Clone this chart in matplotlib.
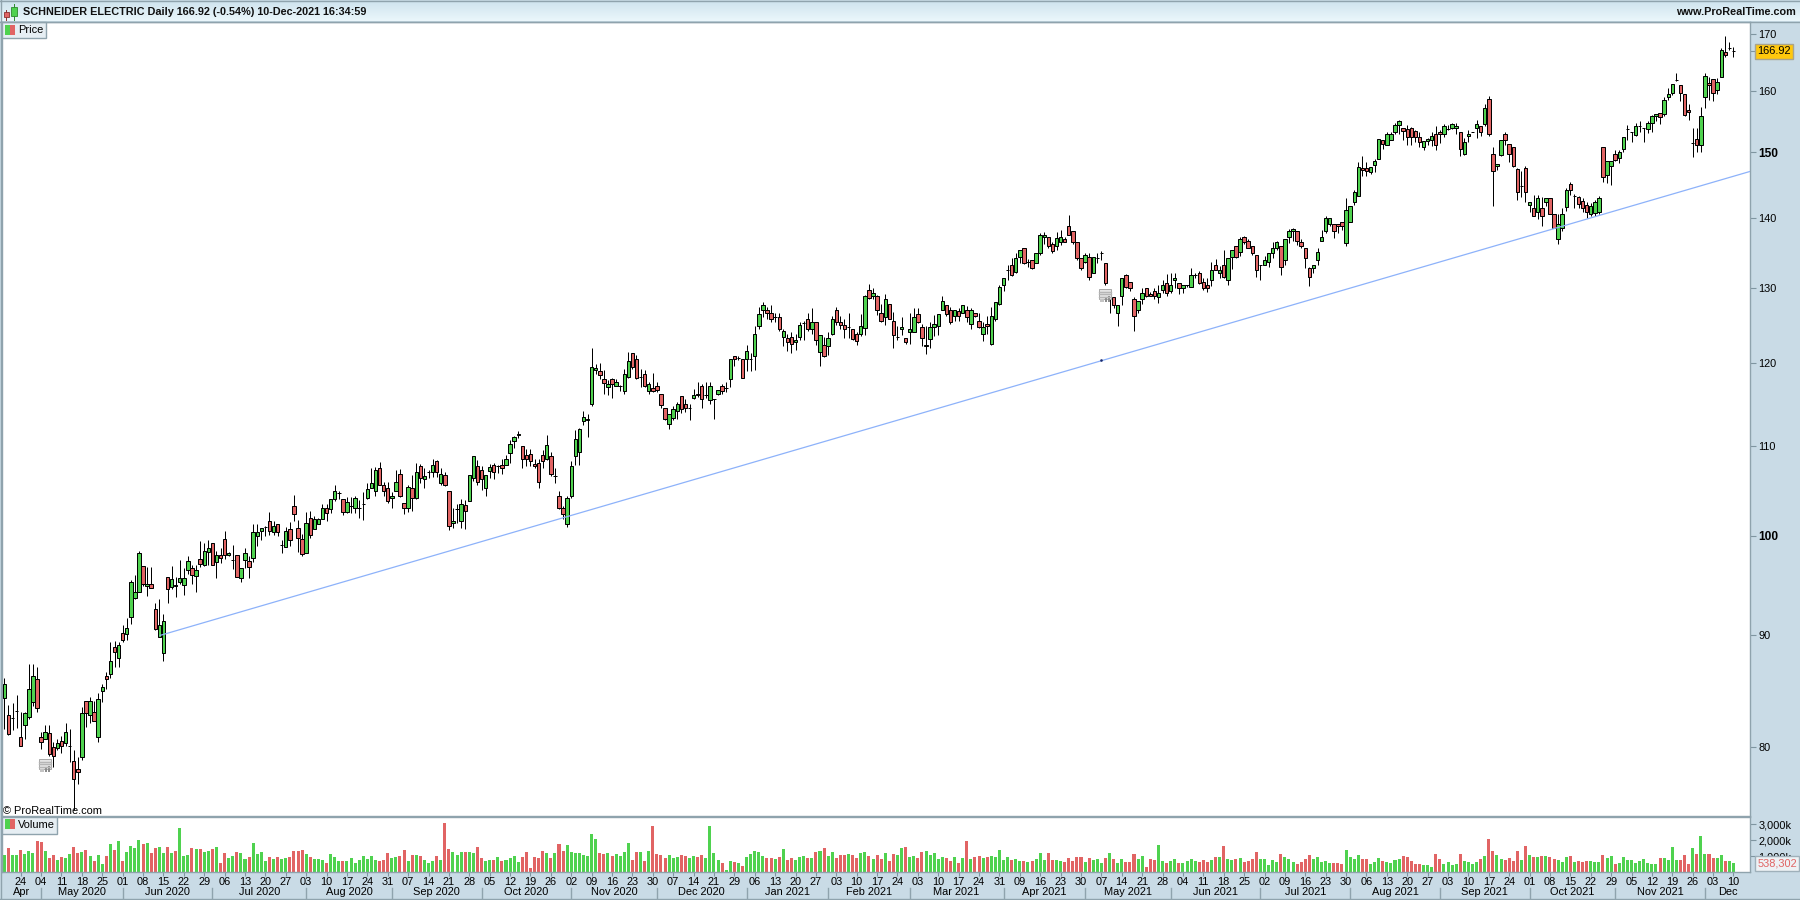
import matplotlib
matplotlib.use('Agg')
import matplotlib.pyplot as plt
from matplotlib.patches import Rectangle
from matplotlib.lines import Line2D
from matplotlib.ticker import NullLocator
import numpy as np

plt.rcParams['font.family'] = ['Liberation Sans', 'DejaVu Sans']

W, H = 1800, 900

opens = [
    84.2,82.7,82.5,83.1,80.8,81.9,82.6,83.9,85.9,80.8, 80.7,81.2,80,79.9,80.5,80.3,80.1,78.8,78.1,79.1,
    84,82.7,83,80.8,84.85,86.2,86.4,88.9,87.9,90.2, 90.1,91.8,93.6,94.2,96.9,94.8,95,92.5,89.8,88.3,
    95.7,94.7,94.9,95.2,94.9,96.4,96.6,95.8,97.6,97, 98.3,99.2,97.3,98,99.7,98,97.5,98,95.6,97.5,
    97.4,97.7,100,100.5,100.9,101.6,100.4,101.3,99,98.8, 100.7,103.2,100.8,99.7,98.2,101.9,100.7,101.2,101.8,103,
    102.9,104,104.6,104,102.5,103.2,103,103,103.4,104.1, 105.2,104.9,107.4,105.5,105.2,104.1,104.9,106.8,103.5,103,
    105.2,104.1,107.6,106.2,107,107,108.2,105.7,106.6,104.8, 101.4,102.9,101.6,103.3,103.7,106.3,107.7,107.2,105.2,107.1,
    107.8,107.7,107.8,107.8,109.1,110.5,111.2,109.9,108.9,109, 107.9,108,108.9,108.5,108.75,106.5,104.3,103,101.2,104.3,
    108.75,109.3,112.9,113,115,119.1,119,118,117,118, 117.2,117.2,116.5,118.3,121.3,120.6,118.3,118.6,116.5,116.9,
    117.2,116.2,114.5,112.6,113.3,114.1,115.9,115,114.5,115.7, 116.2,117.2,116.1,115.4,115.6,116.2,117.2,116.9,118,120.9,
    120.7,120.5,120.5,120.5,120.9,124.9,127,126.9,126.6,126, 126,123.4,123.2,123.4,122.7,123.4,125.2,125.8,124.4,125.3,
    121.4,122.3,122.2,123.8,126.9,125.4,125,124.7,124.5,123.8, 123.8,124.6,129.7,128.8,128.9,126.6,126,127.8,125.5,123.4,
    124.4,123.2,124.1,124,126.4,124.7,122.2,123.1,124.7,124.9, 126.9,127.7,126.9,126.1,126.8,126.6,126.9,125.1,126.5,125.5,
    123.8,125.1,122.5,125.8,127.8,130.4,132.4,133.2,132.2,134.3, 135.5,133.6,133.9,133.5,134.8,137.1,137.1,136.2,135.8,136.5,
    136.8,138.8,138,136.4,134.2,133.6,134.3,132,134.1,134.8, 133.5,128.9,128.7,126.5,128.8,131.7,130.8,128.5,126.9,128.4,
    130,129.1,129.6,128.7,129.7,130.7,129.6,131,130.6,129.9, 130.3,130.1,131.7,132.1,130.8,130.4,131,133.1,132.1,133.1,
    131,134.3,135.8,135,137.1,136.6,135.8,134.5,133.1,133.1, 133.6,134.9,135.6,135.9,133.8,137.2,138,138,136.5,135.6,
    132.7,132.7,133.8,136.6,138,139.1,139.1,139.1,139.3,136.3, 139.4,142.4,143.3,147.5,147.5,146.9,148,148.9,151.9,151.2,
    151.9,153.2,154.4,153.9,153.7,153.9,153.4,152.4,150.8,151.8, 151.9,153,153.2,152.9,153.7,153.9,153.9,153.2,149.8,152.6,
    153.3,153.9,154.2,154.6,158.7,149.7,147.8,149.6,152.9,151.3, 150.8,147.4,144.7,147.5,141.9,141.5,140.9,141.5,142.4,142.9,
    140.5,136.8,138.5,141.6,145,143.2,143.1,142.5,141.9,140.5, 140.7,140.8,150.8,146.4,147.8,149.8,149.1,150.5,153.7,153.2,
    152.8,154.2,153.9,153.7,154.7,155.8,156.3,156.2,159,159.7, 161.9,161,159.5,156.9,151.5,152.2,151.2,159,161.4,162.1,
    160.3,162.4,166.8,167.5,166.92,
]
highs = [
    86,83.6,83.8,84.5,83,83,87.3,87.3,87,81.3, 81.9,81.9,80.4,80.7,80.9,82,81.5,79.7,79.1,83.4,
    84,84.3,84,84.7,85.5,86.6,89.4,89.5,89.4,91, 91.7,95.4,95.9,98.4,96.9,96.7,96.7,93.1,93.5,92.1,
    95.7,96.9,95.7,97.5,96.6,97.9,97,97,99.4,99.2, 99.5,99.2,98.4,98.7,100.5,98.3,99,98,96.6,98.7,
    97.9,101.3,101.3,100.8,101,102.5,101.6,101.3,99.6,100.9, 101.5,104.4,101.7,100.2,102.5,102.6,102.1,101.9,103.4,103.4,
    104,105.5,104.9,104,104.2,104.2,104.3,103.8,104.7,105.7, 107.4,107.5,108.1,105.8,105.8,104.7,107.2,107.3,103.5,105.5,
    106.6,108,107.9,107.4,107.2,108.5,108.3,107.4,107,104.8, 103,103.4,104,103.9,106.6,108.75,108.3,107.7,106.6,107.9,
    108,107.8,108.5,108.9,110.6,111.1,111.7,109.9,109.6,109.6, 108.5,108.5,109.5,111.2,109.3,107.4,104.8,103.2,104.3,108.2,
    111.8,112.1,114.1,113.7,122,119.9,120,119.1,117.9,118.1, 118,117.3,119.3,121.4,121.3,121,119.3,119.1,117.7,118.8,
    117.6,116.2,114.5,113.8,114.7,115.2,115.9,115.6,115,116.8, 117.7,117.4,117.6,117.7,115.6,116.7,117.4,117.6,120.5,120.9,
    120.9,120.5,122.3,121.3,124.8,127.4,128,127.4,127.6,126.6, 126.5,124.4,123.8,124,123.8,125.3,125.5,126.6,127.2,125.3,
    123.7,123.4,124,126.2,127.4,126.1,125.8,126.6,124.5,124.1, 126.4,129,130.5,129.9,129,127.8,129.1,127.8,126.7,124.8,
    126,123.2,126.5,127.2,127.3,125.1,124.8,125.4,126.3,126.4, 128.9,127.7,127.4,126.9,127.2,127.7,127.5,127.3,126.5,126.5,
    125.3,126.2,127.4,128.1,130.3,131.3,133.1,134.1,134.9,135.3, 135.5,134,133.9,134.9,137.8,137.9,137.2,136.5,137.9,138.2,
    137.1,140.4,138,136.4,134.2,134.9,134.8,134.3,134.9,135.1, 133.5,128.9,128.7,127.7,131.3,131.9,130.8,128.7,128.2,130,
    130,129.4,130,130.3,131,131.9,132,132,130.7,130.4, 130.4,132.7,132,132.3,131.4,131.3,133.6,134,133,135.3,
    134.2,135.3,135.8,137.1,137.3,136.8,135.8,134.5,133.1,134.4, 134.9,136.5,136.6,135.9,136.8,138.3,138.5,138,136.9,135.6,
    132.9,133.2,135.5,138.2,140.2,140,139.1,139.1,139.3,143, 141.8,144.1,148.4,149.4,148.4,147.7,148.9,152.1,151.9,153.3,
    153.3,154.7,155.2,153.9,154.4,154,153.6,153.3,151.8,152.3, 153.2,154.2,153.6,154.6,154.4,154.7,154.7,153.2,152.3,153.6,
    153.3,155.2,154.2,157.9,159.2,150.8,148.1,151.9,153.3,151.3, 150.8,147.5,147,147.9,142.4,143.4,143.4,143.1,143,142.9,
    140.5,140.5,141.5,144.5,145.3,143.6,143.2,143,142.3,142.2, 142.7,143.2,150.8,148.7,148.7,150.4,150.4,152.4,154.4,153.3,
    154.7,155,153.9,155,156,156.2,156.3,159.1,160.5,161.2, 163.2,161,159.5,157.8,153.9,153.9,157.4,163.1,162.5,162.1,
    162.2,167.5,169.6,168.5,167.6,
]
lows = [
    81.5,81,81.4,81.6,80.1,80.7,82.4,83.5,83,79.8, 80.7,79.2,78.3,79.7,79.5,80.1,78.7,74.8,76.9,78.9,
    81.7,82,82.2,80.4,83.9,85,86,87,87,89.4, 89.6,91.1,93.5,94.2,94.8,93.8,94.6,90.5,89.8,87.6,
    93.1,94.5,93.7,95,93.9,96,95,94.2,96.7,96.8, 97,97,95.6,97.2,97.6,97.9,96.5,95.7,95.2,96.6,
    95.6,97.3,98.9,99.6,100,100.1,100.1,100,98.2,98.8, 98.9,101.6,98.3,97.9,98.2,99.8,100.7,101.2,101.8,101.6,
    102.4,103.7,104,102.2,102.4,102.4,102.4,101.9,101.7,104, 105.2,104.3,105.5,104.3,103.5,103,104.9,104.2,102.3,102.5,
    102.7,104,105.7,105.2,106.3,106.4,106.4,105.5,105.4,100.6, 100.8,101.4,100.8,100.7,103.7,106,105.5,105,104.3,106.3,
    106.2,106.9,106.8,107.8,108,109.7,110.9,107.4,107.7,107.7, 107.4,105.2,107.4,108.3,106.5,105.7,102.9,101.8,100.9,104.1,
    107.8,107.8,112.4,111,114.7,118.6,118,116.2,116,115.7, 117.1,116.5,116.2,118.2,119.3,118,117,117,116.2,116.4,
    116.4,114.5,113,112,113,113.1,113.9,114,113,115.6, 115.8,114.5,115.7,115,113.2,116,116.2,116.4,117,119.7,
    120.4,118.2,119,119,119.2,124.4,126,125.7,125.3,125.4, 124.2,122.2,121.6,121.3,121.7,123,123,124.2,123.8,122.3,
    119.7,120.8,121,123.7,125,124.5,123.3,123.3,123,122.3, 123.5,123.6,128.5,128.5,126.3,125.4,125,125.7,122,123,
    123.7,122.5,122.5,124,125.2,122.2,121.2,122,123.5,123.6, 126.9,126.1,125.1,125.5,125.5,126.6,125.3,124.5,126,124.6,
    122.9,123.8,122.4,125.5,127.6,129.6,131,131.6,132,133.4, 133.3,132.9,132.6,133.4,134.5,136.2,135.6,134.9,135.3,136,
    136.4,137.4,136.2,133.9,132.5,133.4,131,132,133.4,133.8, 130.4,126.6,127.2,124.8,127.6,130,129.6,124.2,126.5,127.8,
    128.7,128.8,128.5,127.9,129.2,128.9,129.2,129.9,129.1,129.2, 130.1,130.1,131.4,130.5,129.7,129.4,130.2,132.4,131.3,131.4,
    130.3,132.6,134.2,134.4,136.2,135.5,134.5,131.5,131,133.1, 132.9,134.1,135.3,131.8,133.1,136.3,136.6,136,135.5,132.7,
    130.2,132,133.1,136.6,137.7,138.8,137,137.7,138.2,135.9, 139.4,141.9,143.3,146.3,146.3,146.6,146.9,148.9,150.6,151.2,
    151.9,153,153,151.9,151.1,151.2,151.6,150.8,150.3,151.1, 151,150.4,151.5,152.4,153.6,153.7,153,149.5,149.6,151.6,
    153.2,152.3,152.6,154.2,152.6,141.8,147.2,149.5,151.2,148.5, 147.7,142.6,143.1,142.3,140.9,140.3,139.8,138.8,141.7,140.5,
    138.4,136.1,138,141,143.4,141.5,141.5,140.8,140,140.2, 140.3,140.5,145.3,145.2,144.9,148.7,148.3,150.1,151.9,151.7,
    152.6,153.2,151.7,153.1,153.3,155,154.6,155.8,158.6,159.4, 161.7,158.4,155.8,155.2,149.2,150,150,157.2,158.5,158.3,
    159.6,162.4,166,167.1,166,
]
closes = [
    85.5,81.1,82.5,83.1,80.1,82.9,85,86.2,83.35,80.4, 81.3,79.4,79.2,80.3,80.1,81.3,80.1,77.3,77.9,82.9,
    82.9,84,82.2,84.1,85.2,85.9,87.6,88.4,89.1,89.6, 90.7,95.2,94.2,98.2,95,95,94.6,90.6,91,91.4,
    94.5,95.5,94.8,95.6,95.6,97.4,95.9,96.4,97.1,98.4, 98.7,97,98,97.7,98,98.2,97.5,95.7,96.6,98.2,
    96.7,100.4,100.4,100.8,100.9,100.5,101,100.4,99,100.5, 99.5,102.3,99.8,98.1,101.4,100.1,101.8,101.8,103,102.4,
    104,104.8,104.6,102.5,103.6,103.2,104.1,103,103.4,105.1, 105.7,107.2,105.5,104.9,103.7,104.3,105.9,104.3,103,105.3,
    104.1,107,106.3,106.5,107,107.8,107,106.8,105.5,101, 101.6,102.9,103.4,102.7,106.6,108.75,105.9,106.2,106.6,107.5,
    107,107.7,107.4,108.5,110.2,111,111.4,108.4,108.5,108.2, 107.6,105.9,108.2,110.1,106.8,106.5,103,102.3,104.1,107.7,
    110.8,111.9,113.4,113.1,119.5,119.4,118.5,117.5,117.4,117.4, 117.7,117.2,118.6,120.3,119.5,118.1,118.3,117.2,117.4,116.5,
    116.7,114.8,113.1,113.8,114.3,115,114.4,114.5,114.5,116, 116,115.6,116.1,117.2,115.6,116.7,116.5,116.9,120.5,120.5,
    120.7,118.2,121.6,120.5,123.8,126.4,127.7,126.6,125.7,126, 124.4,124.2,122.7,122.5,123,125,125.2,124.5,125.4,123,
    123.7,120.9,123.2,125.7,125.4,125,124.5,124.7,123.1,122.9, 124.9,128.8,128.6,129.3,126.9,125.5,128.5,125.7,123.6,123.4,
    124.7,122.7,124.4,126,125.3,123.3,122.4,124.7,125.1,126.4, 128.2,126.4,125.4,126.9,126.2,127.6,126,127,126.1,124.7,
    124.7,124.9,126.1,128.1,130.1,131.3,132.4,131.8,134.1,135.3, 133.4,133.6,132.7,134.9,137.4,137.4,135.9,135.2,137,137.1,
    136.4,137.4,136.4,134.2,132.8,134.5,131.5,134.3,134.1,134.8, 130.7,128.9,127.7,127.7,131.3,130.1,129.9,126.1,128.2,129.3,
    128.9,128.8,128.9,129.2,130.4,129.2,130.3,131.4,129.9,130.4, 130.3,131.8,131.7,130.6,130,129.9,132.5,132.5,132.5,131.5,
    134.2,135.3,134.3,136.9,136.5,135.6,134.9,132.5,133.1,133.8, 134.9,135.5,136.5,132.9,136.8,138.1,138.3,136.6,135.9,134.1,
    131.5,133.2,135,137.2,139.9,139.9,138.1,138.8,138.7,141.2, 141.8,143.8,147.7,147.2,147,147.7,148.6,152.1,151.3,152.9,
    153,154.4,155,153.5,152.4,152.4,152.4,151.6,151.8,152.1, 152.6,151.2,152.9,154.2,153.7,154.5,154.2,150.5,151.6,152.9,
    153.3,154.5,153.2,157.2,152.9,147,148.1,151.9,151.9,149.7, 147.8,143.8,144.7,143.8,142.4,140.3,143,140.3,143,140.6,
    138.5,139.1,140.6,144.1,144.1,143.2,142.1,141.5,140.9,141.8, 142.4,143,146.1,148.7,148.7,148.8,150,152.4,153.7,153.2,
    154.3,154.2,153.9,154.7,155.8,156.2,155.7,158.5,159.5,161.2, 161.9,159.7,156.1,156.6,151.5,151.2,155.9,162.6,161,159.7,
    161.6,167.1,166.2,167.5,166.92,
]
# volume in thousands
volumes = [
    1060,1500,1060,1060,1370,1120,1310,1190,1940,1870, 1310,870,1060,750,940,870,1120,1560,1190,1250,
    1370,1000,690,1060,500,1000,1750,1370,1940,690, 1250,1620,1500,2000,1750,1810,1190,1500,1560,1190,
    1560,1190,1310,2750,1000,1060,1500,1440,1440,1250, 1310,1440,1560,560,1190,870,1000,1250,1190,810,
    940,1810,1120,1250,690,940,810,940,810,870, 940,1310,1310,1370,1120,940,810,810,750,560,
    1120,940,690,690,690,870,560,750,1000,810, 1000,750,690,750,1190,870,940,1020,1400,710,
    1080,1080,1020,770,580,710,1020,770,3080,1460, 1270,1080,1270,1270,1270,1210,1580,900,710,770,
    770,960,710,770,900,1020,650,960,1270,270, 960,900,1330,1210,900,1210,1770,1330,1710,1270,
    1210,1210,1080,1020,2400,2080,1210,1120,1190,1020, 1150,1020,1270,1830,770,1270,1270,710,1330,2900,
    1150,1080,900,1080,900,960,1080,1020,900,1020, 960,1080,900,2900,1210,770,580,150,710,650,
    580,400,960,1150,1330,1270,1020,900,900,830, 960,1460,770,900,770,960,1020,900,900,1270,
    1330,1520,1020,1270,900,1080,1080,1150,1080,900, 1210,1270,1020,830,1080,830,1210,710,1150,1080,
    1520,1580,960,1020,900,1270,1330,1080,1210,830, 960,900,710,960,580,900,1960,830,960,1020,
    900,960,1020,960,1400,770,960,770,830,710, 710,650,710,830,1210,770,1210,770,770,710,
    650,900,710,960,960,650,900,770,830,580, 900,1210,830,580,830,650,650,1150,830,1020,
    330,830,770,1710,710,580,710,830,580,580, 710,830,710,650,770,650,770,960,960,1650,
    830,770,830,900,650,710,830,1270,830,830, 460,770,650,1150,960,830,650,520,650,830,
    1080,830,960,650,710,580,580,580,520,1400, 960,830,1080,830,830,520,650,900,710,650,
    580,770,830,1020,960,710,520,520,460,460, 330,1150,830,520,650,460,520,1150,710,650,
    520,650,830,1020,2060,1330,1080,810,750,870, 690,1310,750,1620,1060,940,940,1000,1000,940,
    810,750,620,940,1000,620,690,620,690,690, 620,620,1060,870,1000,500,560,940,750,750,
    560,690,810,560,500,500,870,870,750,1560, 750,750,1060,500,1500,1120,2250,1120,1120,870,
    870,1060,690,690,538,
]
assert len(opens) == len(highs) == len(lows) == len(closes) == len(volumes), (len(opens), len(highs), len(lows), len(closes), len(volumes))

week_labels = ['24','04','11','18','25','01','08','15','22','29','06','13','20','27','03','10','17','24','31',
               '07','14','21','28','05','12','19','26','02','09','16','23','30','07','14','21','29',
               '06','13','20','27','03','10','17','24','03','10','17','24','31','09','16','23','30',
               '07','14','21','28','04','11','18','25','02','09','16','23','30','06','13','20','27',
               '03','10','17','24','01','08','15','22','29','05','12','19','26','03','10']
month_labels = ['Apr','May 2020','Jun 2020','Jul 2020','Aug 2020','Sep 2020','Oct 2020','Nov 2020','Dec 2020',
                'Jan 2021','Feb 2021','Mar 2021','Apr 2021','May 2021','Jun 2021','Jul 2021','Aug 2021',
                'Sep 2021','Oct 2021','Nov 2021','Dec']
month_starts = [9,29,51,74,95,117,139,160,182,202,222,245,265,286,308,330,352,374,395,417]

price_ticks = [170,160,150,140,130,120,110,100,90,80]
volume_ticks = [1000,2000,3000]
trend_x = [38.2, 428.05]
trend_y = [90, 147]
last_price = 166.92

GREEN = '#4fd24f'
RED = '#e16464'
STRIP = '#c9dbe6'
BORDER = '#8fa3ad'
TICK = '#7f95a0'
FS = 7.9

PITCH = 4.078
X0 = 4.4
xlim = ((2 - X0) / PITCH, (1750 - X0) / PITCH)


def box(l, t, r, b):
    return [l / W, 1 - b / H, (r - l) / W, (b - t) / H]


def rect(l, t, r, b, **kw):
    fig.add_artist(Rectangle((l / W, 1 - b / H), (r - l) / W, (b - t) / H,
                             transform=fig.transFigure, **kw))


def hline(y, l, r, color=BORDER):
    fig.add_artist(Line2D([l / W, r / W], [1 - y / H, 1 - y / H], color=color, lw=1))


def calendar(l, t):
    rect(l, t, l + 12, t + 10, fc='#e4e4e4', ec='#a8a8a8', lw=0.7)
    for k in range(1, 4):
        hline(t + k * 2.5, l, l + 12, color='#b5b5b5')
    rect(l + 6, t + 9, l + 8, t + 13, fc='#8c8c8c', ec='none')
    rect(l + 9, t + 7, l + 11, t + 13, fc='#8c8c8c', ec='none')
    rect(l + 1, t + 10, l + 5, t + 13, fc='#c4c4c4', ec='none')


fig = plt.figure(figsize=(W / 100, H / 100), dpi=100, facecolor=STRIP)

# title bar
ax_top = fig.add_axes(box(0, 1, 1800, 21))
ax_top.imshow(np.linspace(0, 1, 20).reshape(-1, 1), aspect='auto', cmap=matplotlib.colors.LinearSegmentedColormap.from_list('t', ['#cfe4ee', '#eaf6fb']))
ax_top.axis('off')

x = np.arange(len(opens))
o, h, l, c = map(np.array, (opens, highs, lows, closes))
up = c >= o
colors = np.where(up, GREEN, RED)

# price pane
ax = fig.add_axes(box(2, 22, 1750, 816))
ax.set_yscale('log')
ax.vlines(x, l, h, color='black', lw=0.72, zorder=2)
ax.bar(x, np.abs(c - o), bottom=np.minimum(o, c), width=0.84, color=colors, edgecolor='black', linewidth=0.72, zorder=3)
ax.plot(trend_x, trend_y, color='#8db2fa', lw=0.9, zorder=4)
ax.plot([268.9], [120.4], marker='s', ms=0.8, color='#1a2a6c', zorder=5)
ax.set_xlim(*xlim)
ax.set_ylim(74.35, 172.17)
ax.yaxis.tick_right()
ax.yaxis.set_minor_locator(NullLocator())
ax.set_yticks(price_ticks + [last_price], [str(t) for t in price_ticks] + [''])
ax.set_xticks([])
ax.tick_params(axis='y', which='major', length=4, width=0.8, color=TICK, pad=2, labelsize=FS)
for t, lab in zip(ax.yaxis.get_major_ticks(), price_ticks + [last_price]):
    if lab in (100, 150):
        t.label2.set_fontweight('bold')
        t.label2.set_fontsize(8.6)
    if lab == last_price:
        t.tick2line.set_color('black')
for s in ax.spines.values():
    s.set_color(BORDER)
    s.set_linewidth(1)
ax.annotate('166.92', xy=(1, last_price), xycoords=('axes fraction', 'data'), xytext=(24, 0),
            textcoords='offset pixels', ha='center', va='center', fontsize=FS,
            bbox=dict(boxstyle='square,pad=0.25', fc='#ffc80d', ec='#a9a48c', lw=1), annotation_clip=False)

# volume pane
ax_v = fig.add_axes(box(2, 817, 1750, 872))
ax_v.bar(x, volumes, width=0.74, color=colors, linewidth=0)
ax_v.set_xlim(*xlim)
ax_v.set_ylim(0, 3440)
ax_v.yaxis.tick_right()
ax_v.set_yticks(volume_ticks, ['1,000k', '2,000k', '3,000k'])
ax_v.tick_params(axis='y', length=4, width=0.8, color=TICK, pad=2, labelsize=FS)
week_idx = 4 + 5 * np.arange(len(week_labels))
ax_v.set_xticks(week_idx, week_labels)
ax_v.tick_params(axis='x', length=3, width=0.8, color=TICK, pad=0.3, labelsize=FS)
for s in ax_v.spines.values():
    s.set_color(BORDER)
    s.set_linewidth(1)
ax_v.annotate('538,302', xy=(1, 538), xycoords=('axes fraction', 'data'), xytext=(27, 0),
              textcoords='offset pixels', ha='center', va='center', fontsize=FS, color='#e16464',
              bbox=dict(boxstyle='square,pad=0.22', fc='#eef2f5', ec='#9fb0ba', lw=1), annotation_clip=False)

edges = [xlim[0]] + month_starts + [xlim[1]]
for k, lab in enumerate(month_labels):
    ax_v.annotate(lab, xy=((edges[k] + edges[k + 1]) / 2, 0), xycoords=('data', 'axes fraction'),
                  xytext=(0, -20), textcoords='offset pixels', ha='center', va='center', fontsize=FS)
sep_tr = ax_v.get_xaxis_transform()
for m in month_starts:
    ax_v.plot([m, m], [-0.29, -0.49], color=BORDER, lw=1, transform=sep_tr, clip_on=False)

# frame lines
hline(0.5, 0, 1800)
hline(21.5, 0, 1800)
hline(899, 0, 1800)
fig.add_artist(Line2D([0.5 / W, 0.5 / W], [0, 1], color=BORDER, lw=1))

# title text and icon
rect(3.5, 12, 9, 17, fc=RED, ec='#8a3030', lw=0.6)
fig.add_artist(Line2D([6.3 / W, 6.3 / W], [1 - 9.5 / H, 1 - 19.5 / H], color='#8a3030', lw=0.7, zorder=0.9))
rect(11, 7.5, 17, 16, fc=GREEN, ec='#2d8a2d', lw=0.6)
fig.add_artist(Line2D([14 / W, 14 / W], [1 - 4 / H, 1 - 19.5 / H], color='#2d8a2d', lw=0.7, zorder=0.9))
fig.text(23 / W, 1 - 12 / H, 'SCHNEIDER ELECTRIC Daily 166.92 (-0.54%) 10-Dec-2021 16:34:59',
         fontsize=7.85, fontweight='bold', va='center', ha='left', color='#111111')
fig.text(1796 / W, 1 - 12 / H, 'www.ProRealTime.com', fontsize=7.85, fontweight='bold', va='center', ha='right', color='#111111')

# pane legends
rect(2, 22, 46, 38, fc='#e6eef3', ec=BORDER, lw=1)
rect(5, 25, 10, 35, fc=GREEN, ec='none')
rect(10, 25, 15, 35, fc=RED, ec='none')
fig.text(18 / W, 1 - 30 / H, 'Price', fontsize=FS, va='center', ha='left')
rect(2, 817, 57.5, 834, fc='#e6eef3', ec=BORDER, lw=1)
rect(5, 819, 10, 829, fc=GREEN, ec='none')
rect(10, 819, 15, 829, fc=RED, ec='none')
fig.text(18 / W, 1 - 824.5 / H, 'Volume', fontsize=FS, va='center', ha='left')
fig.text(3 / W, 1 - 810.5 / H, '\u00a9 ProRealTime.com', fontsize=FS, va='center', ha='left')

calendar(39, 759)
calendar(1099, 289)

fig.savefig('out.png', dpi=100, facecolor=fig.get_facecolor())
